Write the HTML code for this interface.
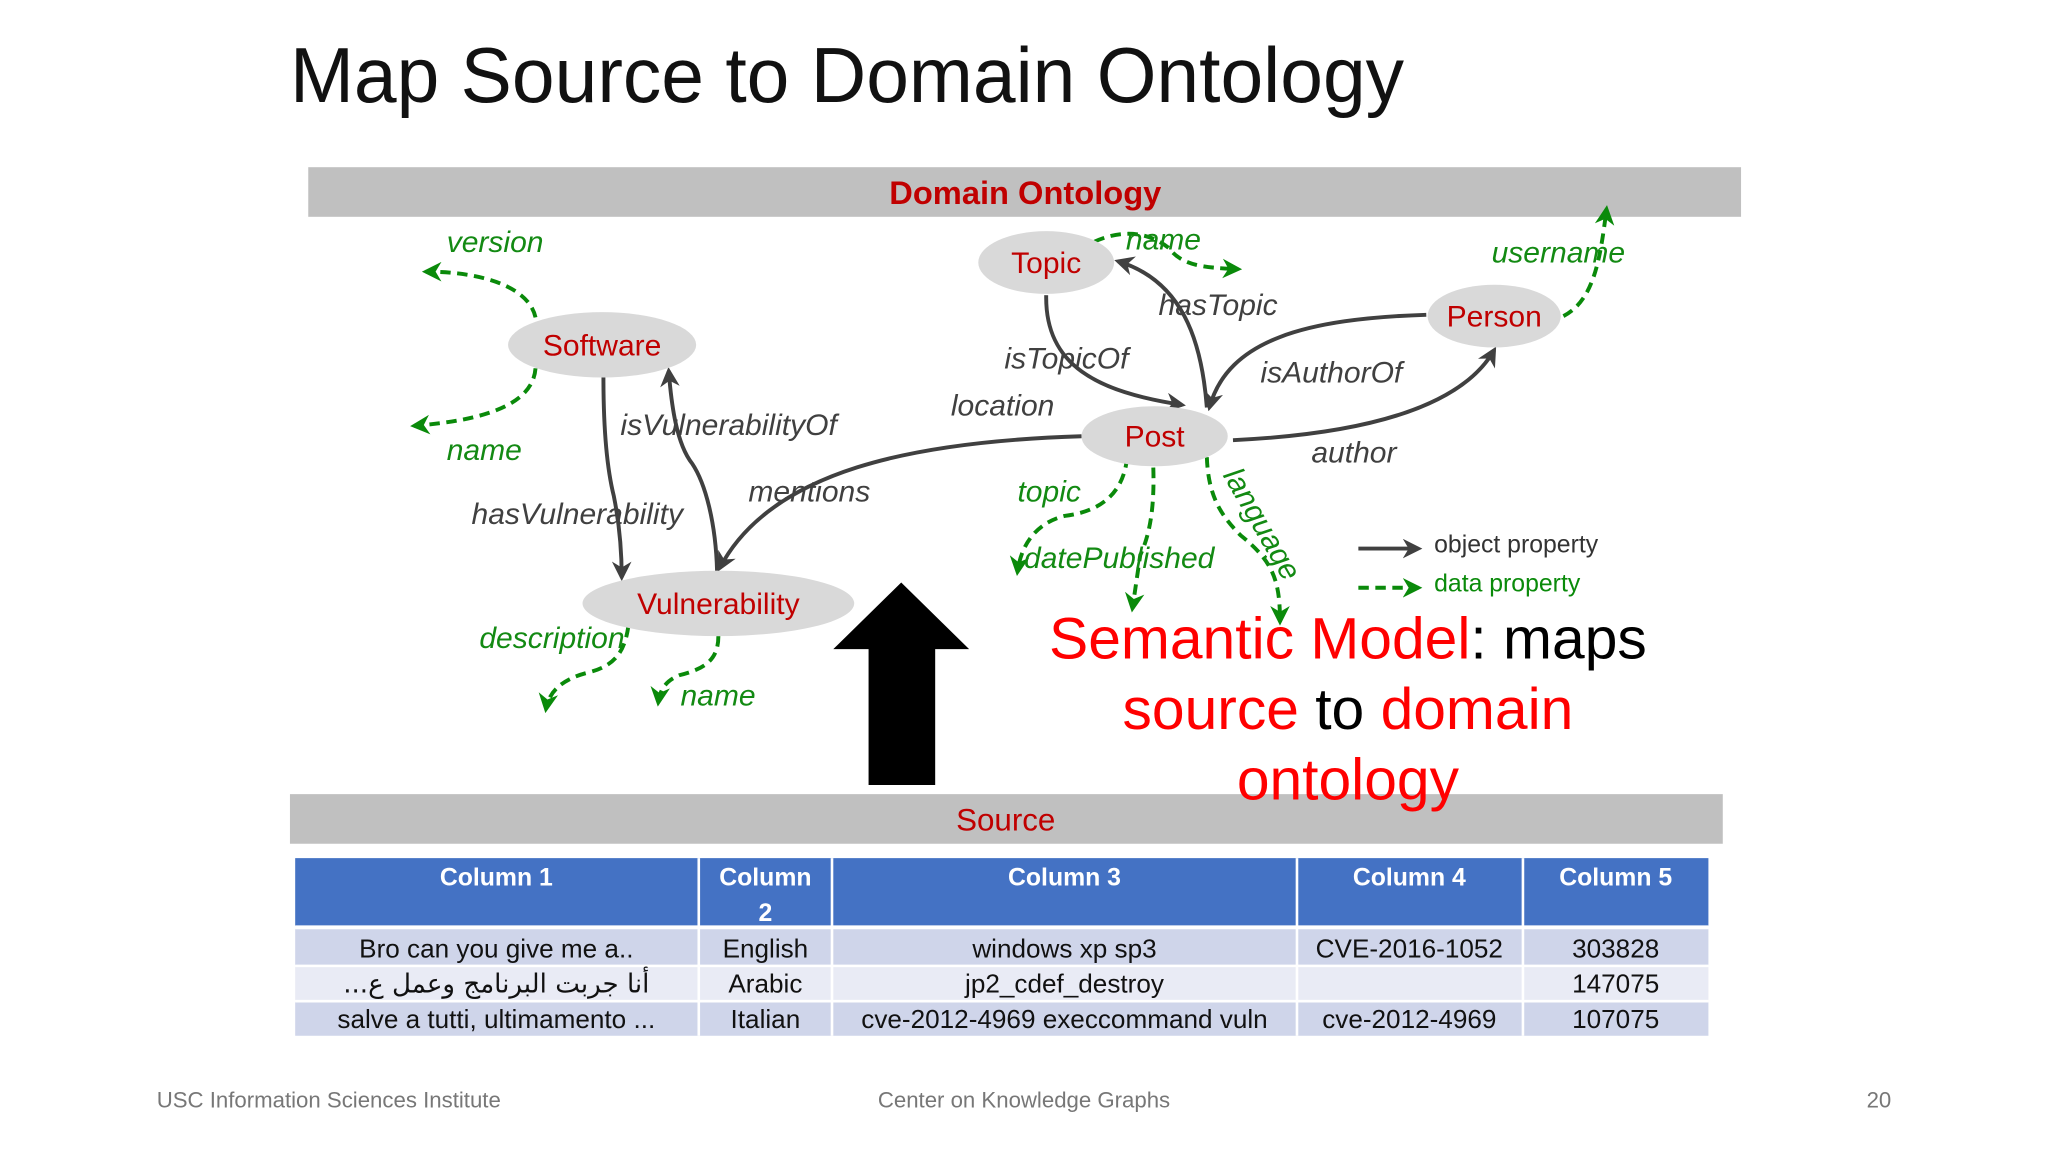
<!DOCTYPE html>
<html><head><meta charset="utf-8"><style>
html,body{margin:0;padding:0;background:#fff;width:2048px;height:1152px;overflow:hidden}
svg{display:block}
text{font-family:"Liberation Sans","DejaVu Sans",sans-serif}
.lab{font-style:italic;font-size:23px;fill:#404040}
.dl{font-style:italic;font-size:23px;fill:#138a13}
.nd{font-size:23px;fill:#c00000;text-anchor:middle}
.op{fill:none;stroke:#404040;stroke-width:3}
.dp{fill:none;stroke:#0a8a0a;stroke-width:3;stroke-dasharray:8,5}
.th{font-size:19px;font-weight:bold;fill:#fff;text-anchor:middle}
.td{font-size:20px;fill:#111;text-anchor:middle}
</style></head><body>
<svg width="2048" height="1152" viewBox="0 0 1568 882" xmlns="http://www.w3.org/2000/svg">
<defs>
<marker id="ag" viewBox="0 0 10 10" refX="8" refY="5" markerWidth="5" markerHeight="5" orient="auto"><path d="M0,0 L10,5 L0,10 L3,5 z" fill="#404040"/></marker>
<marker id="gg" viewBox="0 0 10 10" refX="8" refY="5" markerWidth="5" markerHeight="5" orient="auto"><path d="M0,0 L10,5 L0,10 L3,5 z" fill="#0a8a0a"/></marker>
</defs>
<text x="222" y="78" font-size="60" fill="#111" textLength="853" lengthAdjust="spacingAndGlyphs">Map Source to Domain Ontology</text>
<rect x="236" y="128" width="1097" height="38" fill="#c0c0c0"/>
<text x="785" y="156" font-size="25" font-weight="bold" fill="#c00000" text-anchor="middle">Domain Ontology</text>

<path class="dp" d="M410,243 C405,220 370,208 326,208" marker-end="url(#gg)"/>
<path class="dp" d="M410,282 C408,310 370,322 317,326" marker-end="url(#gg)"/>
<path class="op" d="M462,289 C462,330 465,360 470,380 C474,400 476,420 476,442" marker-end="url(#ag)"/>
<path class="op" d="M549,437 C548,400 540,370 530,355 C518,340 514,310 512,284" marker-end="url(#ag)"/>
<path class="op" d="M828,334 C700,338 590,360 551,435" marker-end="url(#ag)"/>
<path class="op" d="M801,226 C800,280 840,300 905,310" marker-end="url(#ag)"/>
<path class="op" d="M924,312 C920,260 905,215 856,200" marker-end="url(#ag)"/>
<path class="op" d="M1092,241 C1000,244 940,260 926,312" marker-end="url(#ag)"/>
<path class="op" d="M944,337 C1050,332 1120,310 1144,268" marker-end="url(#ag)"/>
<path class="dp" d="M838,185 C860,175 880,178 895,190 C905,203 920,205 948,206" marker-end="url(#gg)"/>
<path class="dp" d="M1197,242 C1220,230 1225,200 1230,160" marker-end="url(#gg)"/>
<path class="dp" d="M863,350 C860,380 840,392 815,395 C795,400 782,415 779,438" marker-end="url(#gg)"/>
<path class="dp" d="M883,358 C884,390 880,410 873,425 L867,466" marker-end="url(#gg)"/>
<path class="dp" d="M924,350 C925,380 935,395 950,410 C975,430 980,445 980,476" marker-end="url(#gg)"/>
<path class="dp" d="M481,480 C478,500 470,510 450,515 C430,520 420,530 418,543" marker-end="url(#gg)"/>
<path class="dp" d="M550,487 C550,505 540,512 520,517 C508,522 505,530 504,538" marker-end="url(#gg)"/>

<ellipse cx="461" cy="264" rx="72" ry="25" fill="#d9d9d9"/>
<text class="nd" x="461" y="272">Software</text>
<ellipse cx="801" cy="201" rx="52" ry="24" fill="#d9d9d9"/>
<text class="nd" x="801" y="209">Topic</text>
<ellipse cx="1144" cy="242" rx="51" ry="24" fill="#d9d9d9"/>
<text class="nd" x="1144" y="250">Person</text>
<ellipse cx="884" cy="334" rx="56" ry="23" fill="#d9d9d9"/>
<text class="nd" x="884" y="342">Post</text>
<ellipse cx="550" cy="462" rx="104" ry="25" fill="#d9d9d9"/>
<text class="nd" x="550" y="470">Vulnerability</text>

<text class="dl" x="342" y="193">version</text>
<text class="dl" x="342" y="352">name</text>
<text class="lab" x="475" y="333">isVulnerabilityOf</text>
<text class="lab" x="361" y="401">hasVulnerability</text>
<text class="lab" x="573" y="384">mentions</text>
<text class="lab" x="728" y="318">location</text>
<text class="lab" x="769" y="282">isTopicOf</text>
<text class="lab" x="887" y="241">hasTopic</text>
<text class="lab" x="965" y="293">isAuthorOf</text>
<text class="lab" x="1004" y="354">author</text>
<text class="dl" x="779" y="384">topic</text>
<text class="dl" x="784" y="435">datePublished</text>
<text class="dl" x="0" y="0" transform="translate(936,364) rotate(60)">language</text>
<text class="dl" x="1142" y="201">username</text>
<text class="dl" x="862" y="191">name</text>
<text class="dl" x="367" y="496">description</text>
<text class="dl" x="521" y="540">name</text>

<line x1="1040" y1="420" x2="1086" y2="420" stroke="#404040" stroke-width="3" marker-end="url(#ag)"/>
<text x="1098" y="423" font-size="19" fill="#333">object property</text>
<line x1="1040" y1="450" x2="1086" y2="450" class="dp" marker-end="url(#gg)"/>
<text x="1098" y="453" font-size="19" fill="#0a8a0a">data property</text>

<polygon points="690,446 742,497 716,497 716,601 665,601 665,497 638,497" fill="#000"/>

<text x="1032" y="504" font-size="45" text-anchor="middle"><tspan fill="#ff0000">Semantic Model</tspan><tspan fill="#000">: maps</tspan></text>
<text x="1032" y="558" font-size="45" text-anchor="middle"><tspan fill="#ff0000">source</tspan><tspan fill="#000"> to </tspan><tspan fill="#ff0000">domain</tspan></text>

<rect x="222" y="608" width="1097" height="38" fill="#c0c0c0"/>
<text x="770" y="636" font-size="24" fill="#c00000" text-anchor="middle">Source</text>
<text x="1032" y="612" font-size="45" text-anchor="middle" fill="#ff0000">ontology</text>

<rect x="226" y="657" width="1082" height="52" fill="#4472c4"/>
<rect x="226" y="711" width="1082" height="28" fill="#cfd5ea"/>
<rect x="226" y="740" width="1082" height="26" fill="#e9ebf5"/>
<rect x="226" y="767" width="1082" height="26" fill="#cfd5ea"/>
<g stroke="#fff" stroke-width="2">
<line x1="535" y1="657" x2="535" y2="793"/><line x1="637" y1="657" x2="637" y2="793"/>
<line x1="993" y1="657" x2="993" y2="793"/><line x1="1166" y1="657" x2="1166" y2="793"/>
<line x1="226" y1="710" x2="1308" y2="710" stroke-width="3"/>
<line x1="226" y1="739.5" x2="1308" y2="739.5"/><line x1="226" y1="766.5" x2="1308" y2="766.5"/>
</g>
<text class="th" x="380" y="678">Column 1</text>
<text class="th" x="586" y="678">Column</text>
<text class="th" x="586" y="705">2</text>
<text class="th" x="815" y="678">Column 3</text>
<text class="th" x="1079" y="678">Column 4</text>
<text class="th" x="1237" y="678">Column 5</text>
<text class="td" x="380" y="733">Bro can you give me a..</text>
<text class="td" x="586" y="733">English</text>
<text class="td" x="815" y="733">windows xp sp3</text>
<text class="td" x="1079" y="733">CVE-2016-1052</text>
<text class="td" x="1237" y="733">303828</text>
<text class="td" x="380" y="760" direction="rtl" unicode-bidi="embed" style="font-family:'DejaVu Sans',sans-serif">أنا جربت البرنامج وعمل ع...</text>
<text class="td" x="586" y="760">Arabic</text>
<text class="td" x="815" y="760">jp2_cdef_destroy</text>
<text class="td" x="1237" y="760">147075</text>
<text class="td" x="380" y="787">salve a tutti, ultimamento ...</text>
<text class="td" x="586" y="787">Italian</text>
<text class="td" x="815" y="787">cve-2012-4969 execcommand  vuln</text>
<text class="td" x="1079" y="787">cve-2012-4969</text>
<text class="td" x="1237" y="787">107075</text>

<text x="120" y="848" font-size="17" fill="#777">USC Information Sciences Institute</text>
<text x="784" y="848" font-size="17" fill="#777" text-anchor="middle">Center on Knowledge Graphs</text>
<text x="1448" y="848" font-size="17" fill="#777" text-anchor="end">20</text>
</svg>
</body></html>
